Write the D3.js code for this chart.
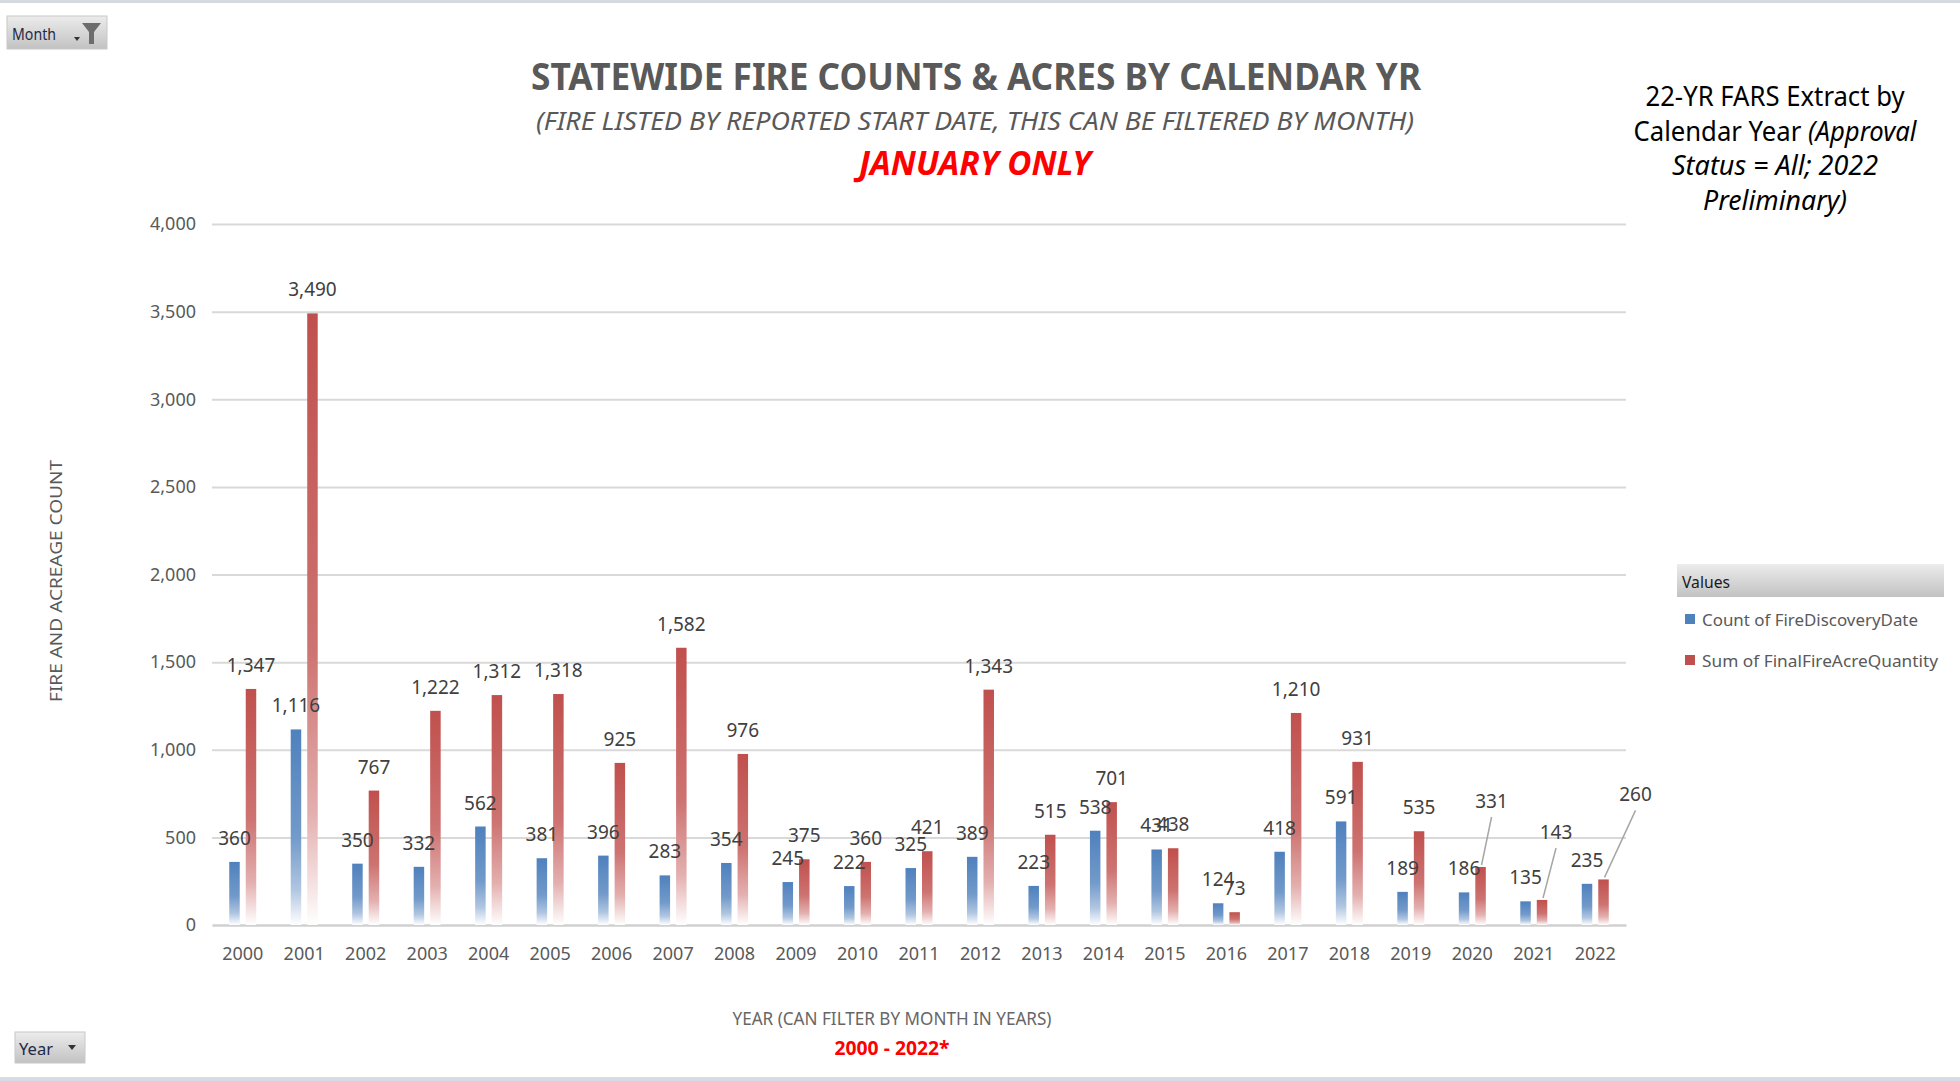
<!DOCTYPE html>
<html>
<head>
<meta charset="utf-8">
<script src="https://cdn.jsdelivr.net/npm/d3@7"></script>
<style>
  html, body { margin: 0; padding: 0; background: #fff; }
  svg { display: block; font-family: "Noto Sans", "Open Sans", sans-serif; }
</style>
</head>
<body>
<svg id="chart"></svg>
<script>
// data
const years = ["2000","2001","2002","2003","2004","2005","2006","2007","2008","2009","2010",
  "2011","2012","2013","2014","2015","2016","2017","2018","2019","2020","2021","2022"];
const fireCounts = [360,1116,350,332,562,381,396,283,354,245,222,325,389,223,538,431,124,418,591,189,186,135,235];
const fireAcres = [1347,3490,767,1222,1312,1318,925,1582,976,375,360,421,1343,515,701,438,73,1210,931,535,331,143,260];
const yTicks = [0,500,1000,1500,2000,2500,3000,3500,4000];
const seriesNames = ["Count of FireDiscoveryDate", "Sum of FinalFireAcreQuantity"];
const noteLines = [
  [["22-YR FARS Extract by", false]],
  [["Calendar Year ", false], ["(Approval", true]],
  [["Status = All; 2022", true]],
  [["Preliminary)", true]]
];

const width = 1960, height = 1081;
const svg = d3.select("#chart").attr("width", width).attr("height", height);
const colors = ["#4f81bd", "#c0504d"];

// leader-line labels (moved off their bars)
const labelNudge = { "2020": [11, -42], "2021": [14, -44], "2022": [32, -61] };

const defs = svg.append("defs");
colors.forEach((c, i) => {
  const g = defs.append("linearGradient").attr("id", "grad" + i)
    .attr("x1", 0).attr("y1", 0).attr("x2", 0).attr("y2", 1);
  g.append("stop").attr("offset", "0%").attr("stop-color", c);
  g.append("stop").attr("offset", "55%").attr("stop-color", d3.interpolateRgb(c, "#fff")(0.2));
  g.append("stop").attr("offset", "82%").attr("stop-color", d3.interpolateRgb(c, "#fff")(0.55));
  g.append("stop").attr("offset", "100%").attr("stop-color", "#fff");
});
const btnGrad = defs.append("linearGradient").attr("id", "btn").attr("x1", 0).attr("y1", 0).attr("x2", 0).attr("y2", 1);
btnGrad.append("stop").attr("offset", "0%").attr("stop-color", "#ececec");
btnGrad.append("stop").attr("offset", "100%").attr("stop-color", "#c2c2c2");

// frame
svg.append("rect").attr("x", 0).attr("y", 0).attr("width", width).attr("height", 3).attr("fill", "#d6d9de");
svg.append("rect").attr("x", 0).attr("y", 1077).attr("width", width).attr("height", 4).attr("fill", "#d5dce6");

// scales
const x = d3.scaleBand().domain(years).range([212, 1626]);
const xs = d3.scaleBand().domain([0, 1]).range([-13.5, 13.5]).paddingInner(0.364);
const y = d3.scaleLinear().domain([0, 4000]).range([925, 224]);

// gridlines
svg.append("g")
  .attr("transform", "translate(212,0)")
  .call(d3.axisLeft(y).tickValues(yTicks.slice(1)).tickSize(-1414).tickFormat(""))
  .call(g => g.select(".domain").remove())
  .call(g => g.selectAll("line").attr("stroke", "#d9d9d9").attr("stroke-width", 2));

// y axis labels
svg.append("g")
  .attr("transform", "translate(212,0)")
  .call(d3.axisLeft(y).tickValues(yTicks).tickSize(0).tickPadding(16).tickFormat(d3.format(",")))
  .call(g => g.select(".domain").remove())
  .call(g => g.selectAll("text").attr("fill", "#595959").style("font-size", "18px")
    .style("font-family", "'Noto Sans', sans-serif"));

// x axis
svg.append("g")
  .attr("transform", "translate(0,925)")
  .call(d3.axisBottom(x).tickSize(0).tickPadding(22))
  .call(g => g.select(".domain").attr("stroke", "#d0d0d0").attr("stroke-width", 2.5))
  .call(g => g.selectAll("text").attr("fill", "#595959").style("font-size", "18px")
    .style("font-family", "'Noto Sans', sans-serif"));

// bars
const series = [fireCounts, fireAcres];
series.forEach((vals, s) => {
  const grp = svg.append("g");
  grp.selectAll("rect")
    .data(years)
    .enter()
    .append("rect")
    .attr("x", (d) => x(d) + x.bandwidth() / 2 + xs(s))
    .attr("y", (d, i) => y(vals[i]))
    .attr("width", xs.bandwidth())
    .attr("height", (d, i) => y(0) - y(vals[i]))
    .attr("fill", "url(#grad" + s + ")");
});

// data labels
series.forEach((vals, s) => {
  const grp = svg.append("g");
  years.forEach((yr, i) => {
    const cx = x(yr) + x.bandwidth() / 2 + xs(s) + xs.bandwidth() / 2;
    const top = y(vals[i]);
    let lx = cx, ly = top - 24;
    const nudge = s === 1 ? labelNudge[yr] : null;
    if (nudge) {
      lx += nudge[0];
      ly += nudge[1];
      grp.append("line")
        .attr("x1", lx).attr("y1", ly + 16)
        .attr("x2", cx + 1).attr("y2", top - 2)
        .attr("stroke", "#a6a6a6").attr("stroke-width", 1.5);
    }
    grp.append("text")
      .attr("x", lx).attr("y", ly)
      .attr("text-anchor", "middle")
      .attr("dominant-baseline", "central")
      .attr("fill", "#404040")
      .style("font-size", "19px")
      .text(d3.format(",")(vals[i]));
  });
});

// titles
svg.append("text").attr("x", 976).attr("y", 75)
  .attr("text-anchor", "middle").attr("dominant-baseline", "central")
  .attr("fill", "#595959").style("font-size", "38px").style("font-weight", "bold")
  .attr("textLength", 890).attr("lengthAdjust", "spacingAndGlyphs")
  .text("STATEWIDE FIRE COUNTS & ACRES BY CALENDAR YR");
svg.append("text").attr("x", 975).attr("y", 120)
  .attr("text-anchor", "middle").attr("dominant-baseline", "central")
  .attr("fill", "#595959").style("font-size", "26px").style("font-style", "italic")
  .attr("textLength", 878).attr("lengthAdjust", "spacingAndGlyphs")
  .text("(FIRE LISTED BY REPORTED START DATE, THIS CAN BE FILTERED BY MONTH)");
svg.append("text").attr("x", 975).attr("y", 162)
  .attr("text-anchor", "middle").attr("dominant-baseline", "central")
  .attr("fill", "#ff0000").style("font-size", "34px").style("font-weight", "bold").style("font-style", "italic")
  .attr("textLength", 232).attr("lengthAdjust", "spacingAndGlyphs")
  .text("JANUARY ONLY");

// note, top right
const noteWidths = [259, 283, 206, 144];
const noteY = [95, 130, 164, 199];
noteLines.forEach((parts, i) => {
  const t = svg.append("text").attr("x", 1775).attr("y", noteY[i])
    .attr("text-anchor", "middle").attr("dominant-baseline", "central")
    .attr("fill", "#000").style("font-size", "27px")
    .attr("textLength", noteWidths[i]).attr("lengthAdjust", "spacingAndGlyphs");
  parts.forEach(p => t.append("tspan").style("font-style", p[1] ? "italic" : "normal").text(p[0]));
});

// axis titles
svg.append("text")
  .attr("transform", "translate(55,581) rotate(-90)")
  .attr("text-anchor", "middle").attr("dominant-baseline", "central")
  .attr("fill", "#595959").style("font-size", "17px")
  .attr("textLength", 242).attr("lengthAdjust", "spacingAndGlyphs")
  .text("FIRE AND ACREAGE COUNT");
svg.append("text").attr("x", 892).attr("y", 1018)
  .attr("text-anchor", "middle").attr("dominant-baseline", "central")
  .attr("fill", "#666").style("font-size", "18px")
  .attr("textLength", 319).attr("lengthAdjust", "spacingAndGlyphs")
  .text("YEAR (CAN FILTER BY MONTH IN YEARS)");
svg.append("text").attr("x", 892).attr("y", 1048)
  .attr("text-anchor", "middle").attr("dominant-baseline", "central")
  .attr("fill", "#ff0000").style("font-size", "19px").style("font-weight", "bold")
  .attr("textLength", 115).attr("lengthAdjust", "spacingAndGlyphs")
  .text("2000 - 2022*");

// legend
const legend = svg.append("g");
legend.append("rect").attr("x", 1677).attr("y", 564).attr("width", 267).attr("height", 33)
  .attr("fill", "url(#btn)");
legend.append("text").attr("x", 1682).attr("y", 581)
  .attr("dominant-baseline", "central").attr("fill", "#1a1a1a").style("font-size", "17px")
  .attr("textLength", 48).attr("lengthAdjust", "spacingAndGlyphs")
  .text("Values");
const legendWidths = [216, 236];
legend.selectAll(".item")
  .data(seriesNames)
  .enter()
  .append("g")
  .attr("class", "item")
  .attr("transform", (d, i) => "translate(1685," + (619 + i * 41) + ")")
  .each(function (d, i) {
    const g = d3.select(this);
    g.append("rect").attr("x", 0).attr("y", -5).attr("width", 10).attr("height", 10).attr("fill", colors[i]);
    g.append("text").attr("x", 17).attr("y", 0).attr("dominant-baseline", "central")
      .attr("fill", "#595959").style("font-size", "17px")
      .attr("textLength", legendWidths[i]).attr("lengthAdjust", "spacingAndGlyphs")
      .text(d);
  });

// pivot filter buttons
const monthBtn = svg.append("g");
monthBtn.append("rect").attr("x", 7).attr("y", 16).attr("width", 100).attr("height", 33)
  .attr("fill", "url(#btn)").attr("stroke", "#c8c8c8");
monthBtn.append("text").attr("x", 12).attr("y", 33).attr("dominant-baseline", "central")
  .attr("fill", "#1f2a44").style("font-size", "17px")
  .attr("textLength", 44).attr("lengthAdjust", "spacingAndGlyphs")
  .text("Month");
monthBtn.append("path").attr("d", "M74,37 L80,37 L77,41 Z").attr("fill", "#333");
monthBtn.append("path").attr("d", "M82,23 L101,23 L94,32 L94,44 L89,44 L89,32 Z").attr("fill", "#6d6d6d");

const yearBtn = svg.append("g");
yearBtn.append("rect").attr("x", 15).attr("y", 1032).attr("width", 70).attr("height", 31)
  .attr("fill", "url(#btn)").attr("stroke", "#c8c8c8");
yearBtn.append("text").attr("x", 19).attr("y", 1048).attr("dominant-baseline", "central")
  .attr("fill", "#1f2a44").style("font-size", "17px")
  .attr("textLength", 34).attr("lengthAdjust", "spacingAndGlyphs")
  .text("Year");
yearBtn.append("path").attr("d", "M68,1045 L76,1045 L72,1050 Z").attr("fill", "#333");
</script>
</body>
</html>
